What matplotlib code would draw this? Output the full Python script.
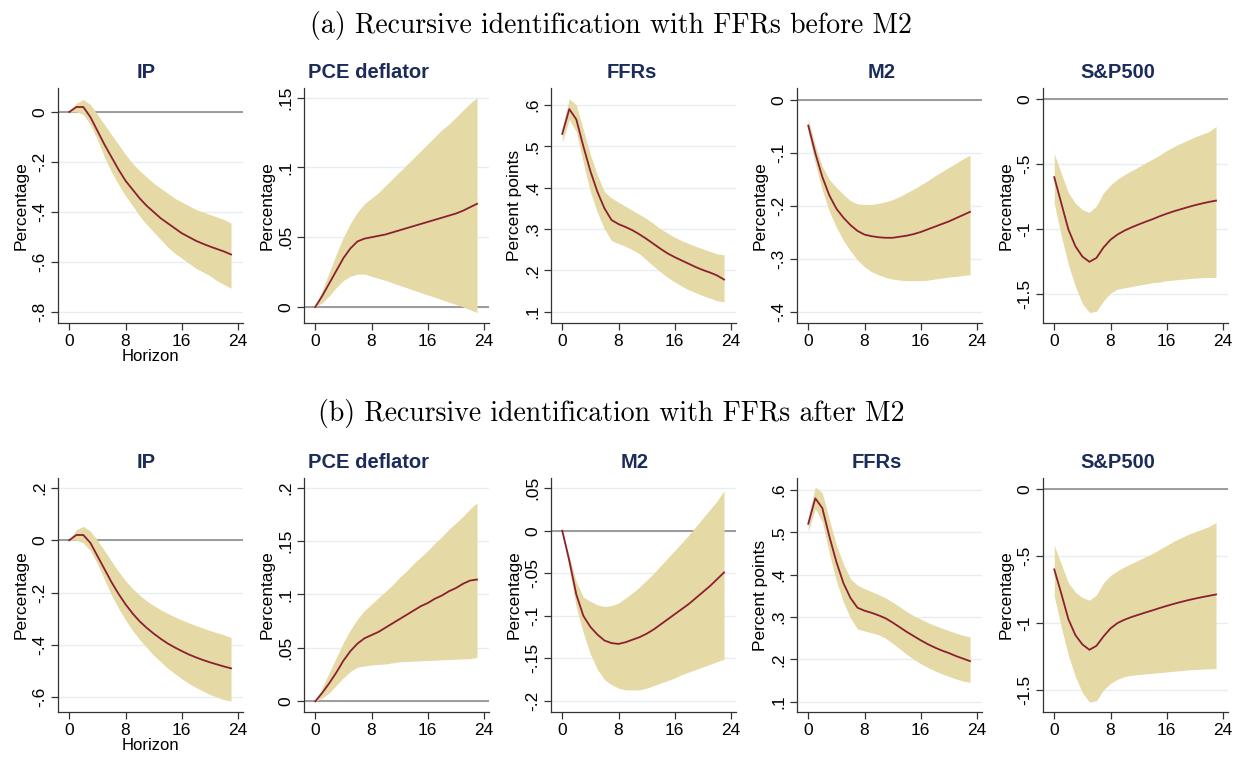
import matplotlib
matplotlib.use("Agg")
import matplotlib.pyplot as plt

horizon = list(range(24))

# ---- (a) FFRs before M2 ----
a_ip = [0, 0.02, 0.02, -0.02, -0.075, -0.13, -0.18, -0.23, -0.275, -0.31, -0.345, -0.375,
        -0.40, -0.425, -0.445, -0.465, -0.485, -0.50, -0.515, -0.527, -0.538, -0.548, -0.558, -0.57]
a_ip_hi = [0, 0.035, 0.05, 0.03, -0.01, -0.05, -0.09, -0.13, -0.17, -0.205, -0.235, -0.26,
           -0.285, -0.305, -0.325, -0.345, -0.36, -0.375, -0.39, -0.40, -0.41, -0.42, -0.43, -0.445]
a_ip_lo = [0, 0.0, -0.01, -0.05, -0.11, -0.18, -0.24, -0.29, -0.335, -0.375, -0.415, -0.45,
           -0.48, -0.51, -0.54, -0.565, -0.585, -0.605, -0.625, -0.64, -0.655, -0.675, -0.69, -0.705]

a_pce = [0, 0.008, 0.017, 0.026, 0.035, 0.042, 0.047, 0.049, 0.050, 0.051, 0.052, 0.0535,
         0.055, 0.0565, 0.058, 0.0595, 0.061, 0.0625, 0.064, 0.0655, 0.067, 0.069, 0.0715, 0.074]
a_pce_hi = [0, 0.012, 0.025, 0.038, 0.05, 0.06, 0.068, 0.074, 0.078, 0.082, 0.087, 0.092,
            0.097, 0.102, 0.107, 0.112, 0.117, 0.122, 0.127, 0.131, 0.136, 0.141, 0.146, 0.15]
a_pce_lo = [0, 0.003, 0.008, 0.014, 0.019, 0.022, 0.0235, 0.0235, 0.022, 0.0205, 0.019, 0.0172,
            0.0155, 0.0138, 0.012, 0.0103, 0.0086, 0.0069, 0.0052, 0.0035, 0.0018, 0.0001, -0.002, -0.004]

a_ffr = [0.53, 0.59, 0.565, 0.50, 0.44, 0.39, 0.35, 0.322, 0.312, 0.305, 0.297, 0.287,
         0.276, 0.264, 0.252, 0.241, 0.232, 0.224, 0.216, 0.208, 0.201, 0.195, 0.188, 0.178]
a_ffr_hi = [0.545, 0.615, 0.60, 0.54, 0.48, 0.43, 0.39, 0.375, 0.365, 0.355, 0.345, 0.335,
            0.325, 0.313, 0.30, 0.29, 0.28, 0.272, 0.265, 0.258, 0.252, 0.246, 0.24, 0.238]
a_ffr_lo = [0.51, 0.565, 0.535, 0.46, 0.39, 0.34, 0.30, 0.272, 0.265, 0.258, 0.25, 0.24,
            0.225, 0.21, 0.196, 0.183, 0.172, 0.162, 0.153, 0.146, 0.139, 0.133, 0.127, 0.124]

a_m2 = [-0.048, -0.10, -0.145, -0.18, -0.205, -0.222, -0.236, -0.247, -0.254, -0.257, -0.259, -0.26,
        -0.26, -0.258, -0.256, -0.253, -0.249, -0.244, -0.239, -0.234, -0.229, -0.223, -0.217, -0.211]
a_m2_hi = [-0.035, -0.085, -0.125, -0.15, -0.165, -0.178, -0.19, -0.196, -0.197, -0.197, -0.195, -0.192,
           -0.188, -0.182, -0.175, -0.168, -0.16, -0.152, -0.143, -0.135, -0.127, -0.119, -0.111, -0.104]
a_m2_lo = [-0.06, -0.12, -0.17, -0.21, -0.24, -0.265, -0.285, -0.302, -0.315, -0.324, -0.33, -0.335,
           -0.338, -0.34, -0.341, -0.341, -0.341, -0.34, -0.338, -0.336, -0.334, -0.333, -0.331, -0.33]

a_sp = [-0.6, -0.8, -1.0, -1.13, -1.21, -1.25, -1.22, -1.14, -1.08, -1.04, -1.01, -0.985,
        -0.963, -0.942, -0.922, -0.9, -0.88, -0.862, -0.846, -0.83, -0.815, -0.802, -0.79, -0.78]
a_sp_hi = [-0.42, -0.57, -0.72, -0.8, -0.85, -0.87, -0.82, -0.72, -0.66, -0.615, -0.58, -0.55,
           -0.52, -0.49, -0.46, -0.43, -0.395, -0.365, -0.34, -0.315, -0.29, -0.27, -0.25, -0.21]
a_sp_lo = [-0.8, -1.05, -1.27, -1.44, -1.57, -1.64, -1.63, -1.55, -1.49, -1.46, -1.45, -1.44,
           -1.43, -1.42, -1.41, -1.405, -1.395, -1.39, -1.385, -1.38, -1.375, -1.372, -1.37, -1.37]

# ---- (b) FFRs after M2 ----
b_ip = [0, 0.02, 0.02, -0.01, -0.06, -0.11, -0.16, -0.205, -0.245, -0.28, -0.31, -0.335,
        -0.357, -0.377, -0.395, -0.41, -0.424, -0.437, -0.448, -0.458, -0.467, -0.475, -0.483, -0.49]
b_ip_hi = [0, 0.04, 0.053, 0.035, 0.0, -0.04, -0.08, -0.12, -0.155, -0.185, -0.21, -0.232,
           -0.25, -0.266, -0.28, -0.293, -0.305, -0.316, -0.326, -0.336, -0.345, -0.354, -0.362, -0.372]
b_ip_lo = [0, 0.0, -0.01, -0.04, -0.09, -0.15, -0.21, -0.26, -0.305, -0.345, -0.38, -0.41,
           -0.44, -0.465, -0.49, -0.51, -0.53, -0.548, -0.563, -0.577, -0.59, -0.6, -0.61, -0.615]

b_pce = [0, 0.008, 0.017, 0.027, 0.038, 0.047, 0.054, 0.059, 0.062, 0.065, 0.069, 0.073,
         0.077, 0.081, 0.085, 0.089, 0.092, 0.096, 0.099, 0.103, 0.106, 0.11, 0.113, 0.114]
b_pce_hi = [0, 0.013, 0.027, 0.041, 0.055, 0.067, 0.077, 0.085, 0.091, 0.097, 0.103, 0.109,
            0.116, 0.122, 0.129, 0.135, 0.141, 0.148, 0.154, 0.161, 0.167, 0.173, 0.18, 0.186]
b_pce_lo = [0, 0.003, 0.008, 0.015, 0.022, 0.028, 0.032, 0.033, 0.034, 0.0345, 0.035, 0.036,
            0.037, 0.0373, 0.0376, 0.0379, 0.0382, 0.0385, 0.0388, 0.0391, 0.0394, 0.0397, 0.04, 0.041]

b_m2 = [0, -0.035, -0.075, -0.1, -0.113, -0.122, -0.129, -0.132, -0.133, -0.131, -0.128, -0.125,
        -0.121, -0.116, -0.11, -0.104, -0.098, -0.092, -0.086, -0.079, -0.072, -0.065, -0.057, -0.049]
b_m2_hi = [0, -0.03, -0.06, -0.078, -0.083, -0.087, -0.089, -0.088, -0.085, -0.079, -0.073, -0.066,
           -0.058, -0.05, -0.041, -0.032, -0.023, -0.014, -0.005, 0.005, 0.015, 0.025, 0.035, 0.047]
b_m2_lo = [0, -0.045, -0.09, -0.12, -0.145, -0.163, -0.175, -0.181, -0.185, -0.187, -0.187, -0.187,
           -0.185, -0.182, -0.179, -0.176, -0.173, -0.169, -0.166, -0.163, -0.16, -0.157, -0.154, -0.151]

b_ffr = [0.52, 0.58, 0.557, 0.49, 0.43, 0.38, 0.345, 0.322, 0.315, 0.31, 0.304, 0.297,
         0.287, 0.276, 0.265, 0.255, 0.245, 0.236, 0.228, 0.221, 0.215, 0.208, 0.202, 0.196]
b_ffr_hi = [0.535, 0.607, 0.593, 0.53, 0.47, 0.425, 0.39, 0.375, 0.367, 0.36, 0.353, 0.345,
            0.335, 0.324, 0.313, 0.303, 0.295, 0.287, 0.28, 0.274, 0.268, 0.262, 0.257, 0.253]
b_ffr_lo = [0.502, 0.555, 0.525, 0.45, 0.385, 0.335, 0.298, 0.272, 0.267, 0.263, 0.258, 0.25,
            0.238, 0.225, 0.212, 0.2, 0.19, 0.181, 0.173, 0.166, 0.16, 0.154, 0.149, 0.146]

b_sp = [-0.6, -0.78, -0.97, -1.09, -1.16, -1.2, -1.17, -1.1, -1.04, -1.0, -0.975, -0.955,
        -0.938, -0.921, -0.905, -0.888, -0.872, -0.857, -0.843, -0.83, -0.818, -0.807, -0.797, -0.787]
b_sp_hi = [-0.42, -0.56, -0.7, -0.77, -0.81, -0.83, -0.79, -0.7, -0.645, -0.61, -0.58, -0.555,
           -0.53, -0.505, -0.48, -0.45, -0.42, -0.39, -0.365, -0.34, -0.32, -0.3, -0.28, -0.25]
b_sp_lo = [-0.8, -1.03, -1.24, -1.4, -1.52, -1.59, -1.58, -1.5, -1.45, -1.42, -1.4, -1.39,
           -1.385, -1.38, -1.375, -1.37, -1.365, -1.36, -1.355, -1.35, -1.347, -1.344, -1.342, -1.34]

x_ticks = [0, 8, 16, 24]

# (title, ylabel, line, hi, lo, yticks, ylim, title shift px)
row_a = [
    ("IP", "Percentage", a_ip, a_ip_hi, a_ip_lo, [0, -0.2, -0.4, -0.6, -0.8], (-0.844, 0.096), -4),
    ("PCE deflator", "Percentage", a_pce, a_pce_hi, a_pce_lo, [0, 0.05, 0.1, 0.15], (-0.0115, 0.157), -28),
    ("FFRs", "Percent points", a_ffr, a_ffr_hi, a_ffr_lo, [0.1, 0.2, 0.3, 0.4, 0.5, 0.6], (0.073, 0.641), -12),
    ("M2", "Percentage", a_m2, a_m2_hi, a_m2_lo, [0, -0.1, -0.2, -0.3, -0.4], (-0.421, 0.023), -8),
    ("S&P500", "Percentage", a_sp, a_sp_hi, a_sp_lo, [0, -0.5, -1, -1.5], (-1.72, 0.085), -18),
]
row_b = [
    ("IP", "Percentage", b_ip, b_ip_hi, b_ip_lo, [0.2, 0, -0.2, -0.4, -0.6], (-0.657, 0.238), -4),
    ("PCE deflator", "Percentage", b_pce, b_pce_hi, b_pce_lo, [0, 0.05, 0.1, 0.15, 0.2], (-0.01, 0.209), -28),
    ("M2", "Percentage", b_m2, b_m2_hi, b_m2_lo, [0.05, 0, -0.05, -0.1, -0.15, -0.2], (-0.213, 0.062), -9),
    ("FFRs", "Percent points", b_ffr, b_ffr_hi, b_ffr_lo, [0.1, 0.2, 0.3, 0.4, 0.5, 0.6], (0.076, 0.628), -13),
    ("S&P500", "Percentage", b_sp, b_sp_hi, b_sp_lo, [0, -0.5, -1, -1.5], (-1.664, 0.082), -18),
]

band_color = "#e5d9a6"
line_color = "#8b2030"
title_color = "#1c2c5a"
sans = "Liberation Sans"


def stata_fmt(v):
    return ("%g" % v).replace("0.", ".")


W, H = 1239, 776
fig = plt.figure(figsize=(W / 100, H / 100), dpi=100)

lefts = [58, 304, 551, 797, 1043]
ax_w = 185
rows = [(row_a, 88, 323), (row_b, 478, 712)]

for panels, top, bottom in rows:
    for i, (name, ylab, mid, hi, lo, yt, yl, shift) in enumerate(panels):
        ax = fig.add_axes([lefts[i] / W, 1 - bottom / H, ax_w / W, (bottom - top) / H])
        for t in yt:
            ax.axhline(t, color="#e6eef0", lw=1.0, zorder=0)
        if yl[0] < 0 < yl[1]:
            ax.axhline(0, color="#8c8c8c", lw=1.2, zorder=1)
        ax.fill_between(horizon, lo, hi, color=band_color, lw=0, zorder=2)
        ax.plot(horizon, mid, color=line_color, lw=1.3, zorder=3)
        ax.set_xlim(-1.6, 24.7)
        ax.set_ylim(*yl)
        ax.set_xticks(x_ticks)
        ax.set_xticklabels([str(t) for t in x_ticks], fontsize=12.5, fontfamily=sans)
        ax.set_yticks(yt)
        ax.set_yticklabels([stata_fmt(t) for t in yt], fontsize=12.5, fontfamily=sans,
                           rotation=90, va="center")
        ax.tick_params(direction="out", length=5, width=0.9, color="#333333", pad=3)
        for s in ["top", "right"]:
            ax.spines[s].set_visible(False)
        for s in ["left", "bottom"]:
            ax.spines[s].set_color("#333333")
            ax.spines[s].set_linewidth(0.9)
        ax.set_ylabel(ylab, fontsize=12.5, fontfamily=sans, labelpad=2)
        if i == 0:
            ax.set_xlabel("Horizon", fontsize=12, fontfamily=sans, labelpad=0)
        ax.set_title(name, fontsize=14.5, fontweight="bold", color=title_color,
                     fontfamily=sans, x=0.5 + shift / ax_w, pad=7)

fig.text(0.493, 1 - 25 / H, "(a) Recursive identification with FFRs before M2",
         ha="center", va="center", fontsize=20, fontfamily="cmr10")
fig.text(0.493, 1 - 413 / H, "(b) Recursive identification with FFRs after M2",
         ha="center", va="center", fontsize=20, fontfamily="cmr10")

fig.savefig("out.png", dpi=100)
